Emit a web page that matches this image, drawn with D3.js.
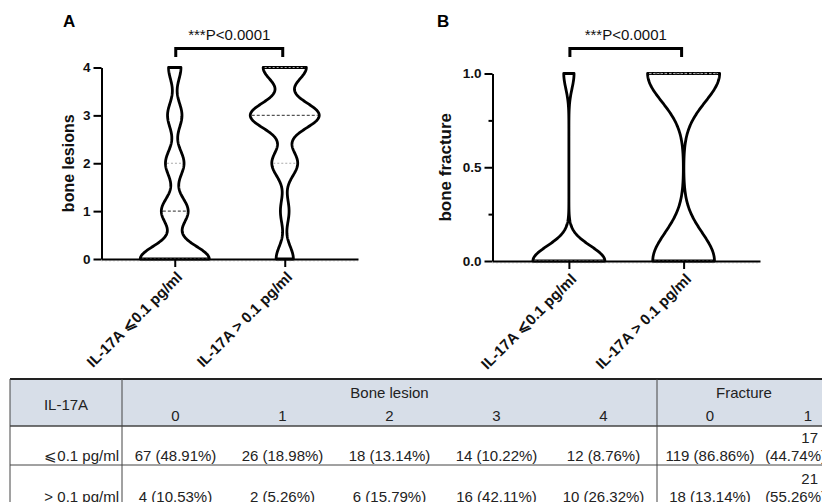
<!DOCTYPE html>
<html lang="en">
<head>
<meta charset="UTF-8" />
<title>IL-17A and bone disease</title>
<script src="https://cdn.jsdelivr.net/npm/d3@7"></script>
<style>
  body { margin: 0; background: #fff; }
  svg text { font-family: 'Liberation Sans', Arial, Helvetica, sans-serif; }
</style>
</head>
<body>
<div class="chart"></div>
<script>
// groups (x categories)
var groups = ['IL-17A \u2A7D0.1 pg/ml', 'IL-17A > 0.1 pg/ml']
var pText = '***P<0.0001'

// bone lesion score and patient counts per group
var lesionLevels = [0, 1, 2, 3, 4]
var lesionLow = [67, 26, 18, 14, 12]
var lesionHigh = [4, 2, 6, 16, 10]
var lesionPctLow = ['48.91%', '18.98%', '13.14%', '10.22%', '8.76%']
var lesionPctHigh = ['10.53%', '5.26%', '15.79%', '42.11%', '26.32%']

// fracture (0 = no, 1 = yes)
var fractureLevels = [0, 1]
var fractureLow = [119, 17]
var fractureHigh = [18, 21]
var fracturePctLow = ['86.86%', '44.74%']
var fracturePctHigh = ['13.14%', '55.26%']

// axis ticks
var lesionTicks = [0, 1, 2, 3, 4]
var fractureTicks = [0, 0.5, 1]
var fractureMinor = [0.25, 0.75]

// table labels
var rowLabels = ['\u2A7D0.1 pg/ml', '> 0.1 pg/ml']

var svg = d3.select('.chart').append('svg').attr('width', 822).attr('height', 502)

// gaussian kernel density, evaluated between min and max of the data
function profile(levels, counts, h) {
  var used = levels.filter((l, k) => counts[k] > 0)
  var lo = d3.min(used), hi = d3.max(used)
  var dens = (v) => d3.sum(levels, (l, k) => counts[k] * Math.exp(-((v - l) * (v - l)) / (2 * h * h)))
  return { pts: d3.range(0, 241).map((i) => { var v = lo + ((hi - lo) * i) / 240; return [v, dens(v)] }), dens: dens }
}

// quartile by position p*(n+1)
function quart(levels, counts, p) {
  var vals = []
  levels.forEach((l, k) => { for (var i = 0; i < counts[k]; i++) vals.push(l) })
  var idx = Math.min(vals.length - 1, Math.max(0, Math.floor(p * (vals.length + 1)) - 1))
  return vals[idx]
}

function panel(o) {
  var g = svg.append('g')
  var y = d3.scaleLinear().domain(o.domain).range([o.yBottom, o.yTop])
  var x = d3.scalePoint().domain(groups).range([o.xLeft, o.xRight]).padding(0.666)

  // violins
  o.series.forEach((counts, i) => {
    var cx = x(groups[i])
    var pr = profile(o.levels, counts, o.bw[i])
    var w = d3.scaleLinear().domain([0, d3.max(pr.pts, (d) => d[1])]).range([0, o.maxHalf])
    g.append('path')
      .datum(pr.pts)
      .attr('d', d3.area().y((d) => y(d[0])).x0((d) => cx - w(d[1])).x1((d) => cx + w(d[1])))
      .attr('fill', '#fff')
      .attr('stroke', '#000')
      .attr('stroke-width', 2.8)
      .attr('stroke-linejoin', 'round')
    // quartile and median lines
    ;[0.25, 0.5, 0.75].forEach((p) => {
      var q = quart(o.levels, counts, p)
      var hw = w(pr.dens(q)) - 1.5
      g.append('line')
        .attr('x1', cx - hw).attr('x2', cx + hw)
        .attr('y1', y(q)).attr('y2', y(q))
        .attr('stroke', p === 0.5 ? '#555' : '#aaa')
        .attr('stroke-width', p === 0.5 ? 1.3 : 1.1)
        .attr('stroke-dasharray', p === 0.5 ? '3,2' : '2,2')
    })
  })

  // faint dotted line along the baseline
  g.append('line')
    .attr('x1', o.xLeft).attr('x2', o.xRight)
    .attr('y1', o.yBottom + 2).attr('y2', o.yBottom + 2)
    .attr('stroke', '#bbb').attr('stroke-width', 1).attr('stroke-dasharray', '1,3')

  // y axis
  var ya = g.append('g').attr('transform', `translate(${o.xLeft},0)`)
    .call(d3.axisLeft(y).tickValues(o.ticks).tickSize(8).tickSizeOuter(0).tickFormat(o.fmt))
  if (o.minor) {
    g.append('g').attr('transform', `translate(${o.xLeft},0)`)
      .call(d3.axisLeft(y).tickValues(o.minor).tickSize(4).tickSizeOuter(0).tickFormat(''))
      .call((s) => s.select('.domain').remove())
      .selectAll('line').attr('stroke', '#000').attr('stroke-width', 2)
  }
  ya.select('.domain').attr('stroke', '#000').attr('stroke-width', 2)
  ya.selectAll('.tick line').attr('stroke', '#000').attr('stroke-width', 2)
  ya.selectAll('.tick text').attr('font-size', 13.5).attr('font-weight', 'bold').attr('fill', '#111').attr('x', -11)

  // x axis
  var xa = g.append('g').attr('transform', `translate(0,${o.yBottom})`)
    .call(d3.axisBottom(x).tickSize(8).tickSizeOuter(0))
  xa.select('.domain').attr('stroke', '#000').attr('stroke-width', 2)
  xa.selectAll('.tick line').attr('stroke', '#000').attr('stroke-width', 2)
  xa.selectAll('.tick text')
    .attr('font-size', 15).attr('font-weight', 'bold').attr('fill', '#111')
    .attr('text-anchor', 'end')
    .attr('y', 0).attr('dy', 0)
    .attr('transform', 'translate(8,19) rotate(-45)')

  // axis title
  g.append('text')
    .attr('transform', `translate(${o.titleX},${(o.yTop + o.yBottom) / 2}) rotate(-90)`)
    .attr('text-anchor', 'middle')
    .attr('font-size', o.titleSize).attr('font-weight', 'bold').attr('fill', '#111')
    .text(o.title)

  // panel letter
  g.append('text').attr('x', o.letterX).attr('y', 27)
    .attr('font-size', 17).attr('font-weight', 'bold').text(o.letter)

  // significance bracket
  var c1 = x(groups[0]) + 1, c2 = x(groups[1]) - 2
  g.append('path')
    .attr('d', `M${c1},57V48.5H${c2}V57`)
    .attr('fill', 'none').attr('stroke', '#000').attr('stroke-width', 3)
  g.append('text').attr('x', (c1 + c2) / 2).attr('y', 40)
    .attr('text-anchor', 'middle').attr('font-size', 15).attr('fill', '#111')
    .text(pText)
}

panel({
  domain: [0, 4], yTop: 67.5, yBottom: 259, xLeft: 101.5, xRight: 358,
  ticks: lesionTicks, fmt: d3.format('d'), levels: lesionLevels,
  series: [lesionLow, lesionHigh], bw: [0.27, 0.27], maxHalf: 34.5,
  title: 'bone lesions', titleSize: 16, titleX: 74, letter: 'A', letterX: 63
})

panel({
  domain: [0, 1], yTop: 73.5, yBottom: 261, xLeft: 492.5, xRight: 760,
  ticks: fractureTicks, minor: fractureMinor, fmt: d3.format('.1f'), levels: fractureLevels,
  series: [fractureLow, fractureHigh], bw: [0.08, 0.15], maxHalf: 36,
  title: 'bone fracture', titleSize: 17, titleX: 451, letter: 'B', letterX: 437
})

// ---- table ----
var tb = svg.append('g')
var tTop = 379, headBot = 426, row1Bot = 465
var colL = 10, colDiv = 122, fracDiv = 657
var lesX = d3.scaleBand().domain(lesionLevels).range([colDiv, fracDiv])
var fracCenters = [710, 808]

tb.append('rect').attr('x', colL).attr('y', tTop).attr('width', 822 - colL).attr('height', headBot - tTop)
  .attr('fill', '#d7dee8')
var lineC = '#444'
tb.append('line').attr('x1', colL).attr('x2', 822).attr('y1', tTop).attr('y2', tTop).attr('stroke', '#222').attr('stroke-width', 2)
tb.append('line').attr('x1', colL).attr('x2', 822).attr('y1', headBot).attr('y2', headBot).attr('stroke', lineC).attr('stroke-width', 1.3)
tb.append('line').attr('x1', colL).attr('x2', 822).attr('y1', row1Bot).attr('y2', row1Bot).attr('stroke', lineC).attr('stroke-width', 1)
;[colL, colDiv, fracDiv].forEach((xv) => {
  tb.append('line').attr('x1', xv).attr('x2', xv).attr('y1', tTop).attr('y2', 502).attr('stroke', lineC).attr('stroke-width', 1)
})

function tt(x, y, s, anchor) {
  tb.append('text').attr('x', x).attr('y', y).attr('text-anchor', anchor || 'middle')
    .attr('font-size', 15).attr('fill', '#222').text(s)
}
tt((colL + colDiv) / 2, 410, 'IL-17A')
tt((colDiv + fracDiv) / 2, 398, 'Bone lesion')
tt(744, 398, 'Fracture')
lesionLevels.forEach((l) => tt(lesX(l) + lesX.bandwidth() / 2, 421, String(l)))
fractureLevels.forEach((l, i) => tt(fracCenters[i], 421, String(l)))

var rowBase = [461, 502]
var lesRows = [[lesionLow, lesionPctLow], [lesionHigh, lesionPctHigh]]
var fracRows = [[fractureLow, fracturePctLow], [fractureHigh, fracturePctHigh]]
rowLabels.forEach((lab, r) => {
  tt(colDiv - 3, rowBase[r], lab, 'end')
  lesionLevels.forEach((l, k) => {
    tt(lesX(l) + lesX.bandwidth() / 2, rowBase[r], `${lesRows[r][0][k]} (${lesRows[r][1][k]})`)
  })
  tt(fracCenters[0], rowBase[r], `${fracRows[r][0][0]} (${fracRows[r][1][0]})`)
  // narrow last column wraps onto two lines
  tt(818, rowBase[r] - 18, String(fracRows[r][0][1]), 'end')
  tt(826, rowBase[r], `(${fracRows[r][1][1]})`, 'end')
})
</script>
</body>
</html>
